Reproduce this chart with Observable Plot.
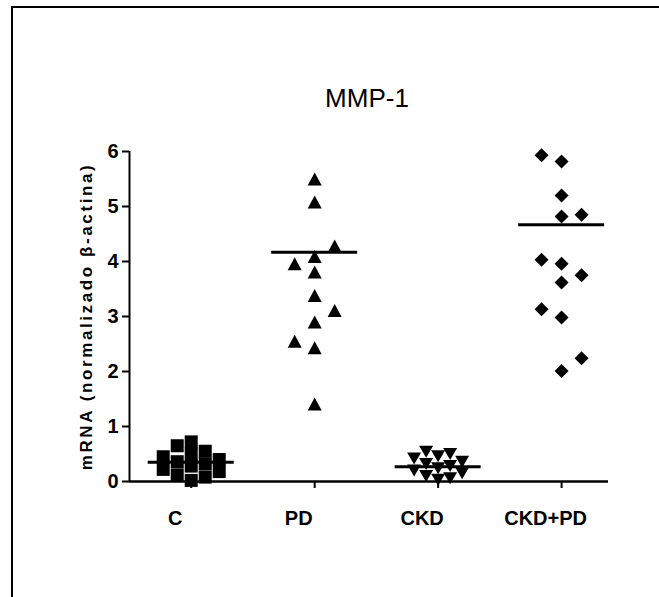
<!DOCTYPE html>
<html><head><meta charset="utf-8">
<script src="https://cdn.jsdelivr.net/npm/d3@7"></script>
<script src="https://cdn.jsdelivr.net/npm/@observablehq/plot@0.6"></script>
<style>
html,body{margin:0;padding:0;background:#fff;overflow:hidden}
#wrap{position:relative;width:659px;height:597px;overflow:hidden}
#border{position:absolute;left:11px;top:6px;width:800px;height:800px;border-left:2px solid #000;border-top:2px solid #000}
#title{position:absolute;left:0;width:734px;top:85px;text-align:center;font:26px/26px "Liberation Sans",Arial,sans-serif;color:#000}
#chart{position:absolute;left:0;top:0}
</style></head>
<body>
<div id="wrap"><div id="border"></div><div id="chart"></div><div id="title"></div></div>
<script>
// ---- data ----
const title = "MMP-1";
const yLabel = "mRNA (normalizado β-actina)";
const groups = ["C", "PD", "CKD", "CKD+PD"];
const cValues = [0.72, 0.65, 0.55, 0.50, 0.45, 0.40, 0.36, 0.32, 0.28, 0.22, 0.18, 0.12, 0.08, 0.02];
const pdValues = [5.50, 5.08, 4.28, 4.09, 3.96, 3.81, 3.38, 3.11, 2.90, 2.55, 2.43, 1.41];
const ckdValues = [0.54, 0.50, 0.46, 0.42, 0.36, 0.32, 0.28, 0.24, 0.20, 0.15, 0.10, 0.06, 0.03];
const ckdpdValues = [5.93, 5.82, 5.20, 4.85, 4.82, 4.03, 3.96, 3.75, 3.62, 3.13, 2.98, 2.24, 2.01];
const centerValues = [0.35, 4.17, 0.27, 4.67];
const yTicks = [0, 1, 2, 3, 4, 5, 6];

// ---- layout / style ----
const W = 659, H = 597, mL = 129, mR = 51, mT = 151, mB = 116;
const xDomain = [-0.5, 3.38];
const pxPerUnit = (W - mL - mR) / (xDomain[1] - xDomain[0]);
const yPxPerUnit = (H - mT - mB) / 6;
const FONT = "Liberation Sans, Arial, sans-serif";

const sym = (pts) => ({draw(ctx, size) {
  const k = Math.sqrt(size / Math.PI) / 7;
  ctx.moveTo(pts[0][0] * k, pts[0][1] * k);
  for (let i = 1; i < pts.length; i++) ctx.lineTo(pts[i][0] * k, pts[i][1] * k);
  ctx.closePath();
}});
const symbols = [
  sym([[-6.5, -6.5], [6.5, -6.5], [6.5, 6.5], [-6.5, 6.5]]),
  sym([[0, -6.5], [7, 6.5], [-7, 6.5]]),
  sym([[0, 6], [7, -6], [-7, -6]]),
  sym([[0, -7], [7, 0], [0, 7], [-7, 0]])
];
const spacing = [14, 20, 12, 20];
const threshold = [12, 14, 11, 14];
const startSide = [1, -1, 1, 1];

function dodge(values, spacingPx, thresholdPx, side) {
  const order = values.map((v, i) => i).sort((a, b) => values[a] - values[b]);
  const placed = [], cols = new Array(values.length);
  for (const i of order) {
    const yPx = values[i] * yPxPerUnit;
    const free = c => !placed.some(p => p.c === c && Math.abs(p.y - yPx) < thresholdPx);
    let c = 0;
    if (!free(0)) {
      for (let k = 1; k < 20; k++) {
        if (free(side * k)) { c = side * k; break; }
        if (free(-side * k)) { c = -side * k; break; }
      }
      side = -side;
    }
    placed.push({c, y: yPx});
    cols[i] = c;
  }
  return cols.map(c => c * spacingPx / pxPerUnit);
}

const groupValues = [cValues, pdValues, ckdValues, ckdpdValues];
const dotMarks = groupValues.map((vals, gi) => {
  const offs = dodge(vals, spacing[gi], threshold[gi], startSide[gi]);
  const pts = vals.map((v, j) => ({x: gi + offs[j], v}));
  return Plot.dot(pts, {x: "x", y: "v", r: 7, symbol: symbols[gi], fill: "black", stroke: "none"});
});
const centers = centerValues.map((v, i) => ({i, v}));
const halfLine = 43 / pxPerUnit;

const chart = Plot.plot({
  width: W, height: H,
  marginLeft: mL, marginRight: mR, marginTop: mT, marginBottom: mB,
  style: {fontFamily: FONT, background: "transparent", color: "black"},
  x: {type: "linear", domain: xDomain},
  y: {domain: [0, 6]},
  marks: [
    Plot.axisY({ticks: yTicks, tickSize: 7, strokeWidth: 2, fill: "none", label: null}),
    Plot.axisY({ticks: yTicks, tickFormat: d => String(d), tickSize: 0, tickPadding: 11, stroke: "none", fontSize: 20, fontWeight: "bold", label: null}),
    Plot.axisX({ticks: [0, 1, 2, 3], tickSize: 7, strokeWidth: 2, fill: "none", label: null}),
    Plot.axisX({ticks: [0, 1, 2, 3], tickFormat: i => groups[i], tickSize: 0, tickPadding: 29, stroke: "none", dx: -16, fontSize: 20, fontWeight: "bold", label: null}),
    Plot.ruleX([xDomain[0]], {y1: 0, y2: 6, strokeWidth: 2}),
    Plot.ruleY([0], {strokeWidth: 2.5}),
    ...dotMarks,
    Plot.ruleY(centers, {y: "v", x1: d => d.i - halfLine, x2: d => d.i + halfLine, strokeWidth: 3}),
    Plot.text([yLabel], {frameAnchor: "left", textAnchor: "middle", dx: -43, rotate: -90, fontSize: 17, fontWeight: "bold"})
  ]
});
d3.select(chart).selectAll("text")
  .filter(function() { return this.textContent === yLabel; })
  .style("letter-spacing", "2.6px");
document.getElementById("chart").appendChild(chart);
document.getElementById("title").textContent = title;
</script>
</body></html>
